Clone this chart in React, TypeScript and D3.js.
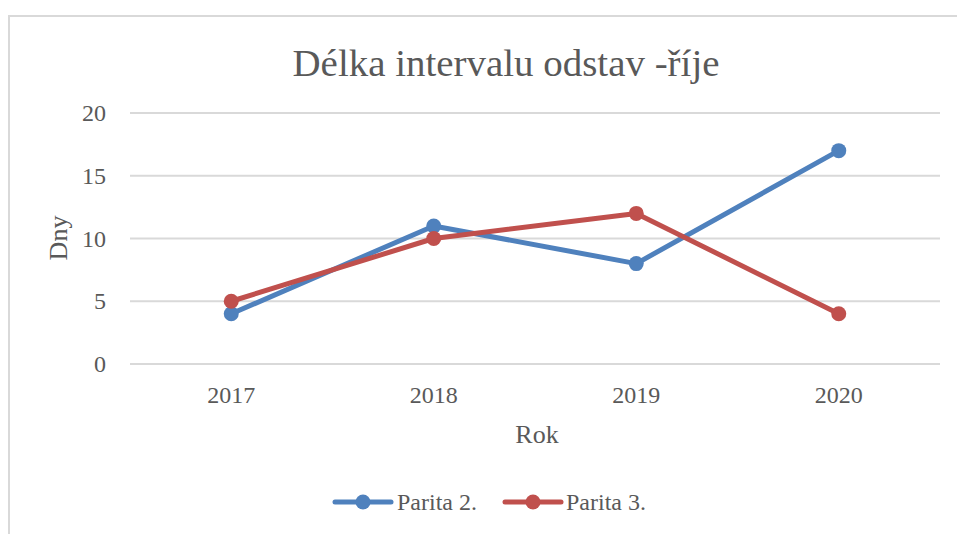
import React from "react";
import * as d3 from "d3";

const years = ["2017", "2018", "2019", "2020"];
const parita2 = [4, 11, 8, 17];
const parita3 = [5, 10, 12, 4];
const yTicks = [0, 5, 10, 15, 20];
const seriesNames = ["Parita 2.", "Parita 3."];
const seriesColors = ["#4F81BD", "#C0504D"];
const titleText = "Délka intervalu odstav -říje";
const xTitle = "Rok";
const yTitle = "Dny";

const W = 957;
const H = 534;
const FONT = "'Liberation Serif', 'DejaVu Serif', serif";
const TEXT = "#595959";
const GRID = "#D9D9D9";

export default function App() {
  const x = d3.scalePoint<string>().domain(years).range([130, 940]).padding(0.5);
  const y = d3.scaleLinear().domain([0, 20]).range([364, 113]);
  const line = d3
    .line<number>()
    .x((_, i) => x(years[i]) as number)
    .y((d) => y(d));
  const series = [parita2, parita3];

  const legendItems = [
    { x0: 335, tx: 397 },
    { x0: 505, tx: 566 },
  ];

  return (
    <svg
      width={W}
      height={H}
      style={{ position: "absolute", left: 0, top: 0, background: "#fff" }}
      fontFamily={FONT}
    >
      <rect x={0} y={0} width={W} height={H} fill="#fff" />
      <rect x={9} y={16} width={W + 20} height={H + 20} fill="none" stroke={GRID} strokeWidth={2} />
      <text
        x={506}
        y={76}
        textAnchor="middle"
        fontSize={37}
        fill={TEXT}
        textLength={427}
        lengthAdjust="spacingAndGlyphs"
      >
        {titleText}
      </text>
      {yTicks.map((t) => (
        <g key={t}>
          <line x1={130} x2={940} y1={y(t)} y2={y(t)} stroke={GRID} strokeWidth={2} />
          <text x={106} y={y(t)} dy="0.34em" textAnchor="end" fontSize={24} fill={TEXT}>
            {t}
          </text>
        </g>
      ))}
      {years.map((yr) => (
        <text key={yr} x={x(yr)} y={403} textAnchor="middle" fontSize={24} fill={TEXT}>
          {yr}
        </text>
      ))}
      <text x={537} y={443} textAnchor="middle" fontSize={26} fill={TEXT}>
        {xTitle}
      </text>
      <text
        transform={`translate(67,238) rotate(-90)`}
        textAnchor="middle"
        fontSize={26}
        fill={TEXT}
      >
        {yTitle}
      </text>
      {series.map((s, si) => (
        <g key={si}>
          <path
            d={line(s) as string}
            fill="none"
            stroke={seriesColors[si]}
            strokeWidth={5}
            strokeLinejoin="round"
            strokeLinecap="round"
          />
          {s.map((v, i) => (
            <circle key={i} cx={x(years[i])} cy={y(v)} r={7.5} fill={seriesColors[si]} />
          ))}
        </g>
      ))}
      {legendItems.map((l, i) => (
        <g key={i}>
          <line
            x1={l.x0}
            x2={l.x0 + 56}
            y1={502}
            y2={502}
            stroke={seriesColors[i]}
            strokeWidth={5}
            strokeLinecap="round"
          />
          <circle cx={l.x0 + 28} cy={502} r={7.5} fill={seriesColors[i]} />
          <text x={l.tx} y={502} dy="0.34em" fontSize={24} fill={TEXT}>
            {seriesNames[i]}
          </text>
        </g>
      ))}
    </svg>
  );
}
